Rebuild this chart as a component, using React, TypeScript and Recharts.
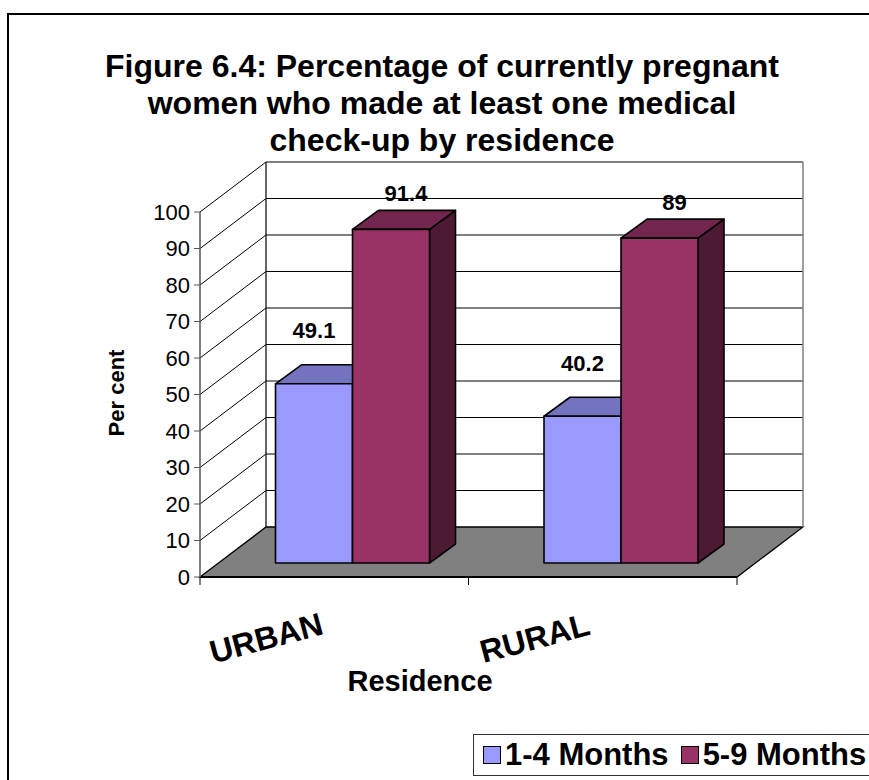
import React from 'react';
import { BarChart, Bar, XAxis, YAxis, CartesianGrid, LabelList, Legend } from 'recharts';

const residences = ['URBAN', 'RURAL'];
const early = [49.1, 40.2]; // 1-4 Months
const late = [91.4, 89]; // 5-9 Months
const yTicks = [0, 10, 20, 30, 40, 50, 60, 70, 80, 90, 100];
const seriesNames = ['1-4 Months', '5-9 Months'];

const data = residences.map((r, i) => ({ residence: r, early: early[i], late: late[i] }));

// layout of the front plane (plot area)
const W = 869;
const H = 780;
const PLOT_L = 200;
const PLOT_R = 737;
const PLOT_T = 212;
const PLOT_B = 577;
// depth of the 3D box
const WALL_DX = 66;
const WALL_DY = -50;
// bars stand part-way into the floor
const OFF_DX = 18.5;
const OFF_DY = -14;
const DEPTH_DX = 26;
const DEPTH_DY = -19;

const FONT = '"Liberation Sans", Arial, sans-serif';

const colors = {
  early: { front: '#9999FF', top: '#7373BF', side: '#4D4D80' },
  late: { front: '#993366', top: '#73264D', side: '#4D1A33' },
};

const makeBox = (c: { front: string; top: string; side: string }) => (props: any) => {
  const { x, y, width, height } = props;
  if (height == null || width == null) return null;
  const fx = x + OFF_DX;
  const fy = y + OFF_DY;
  const bx = fx + width;
  const by = fy + height;
  const top = `${fx},${fy} ${fx + DEPTH_DX},${fy + DEPTH_DY} ${bx + DEPTH_DX},${fy + DEPTH_DY} ${bx},${fy}`;
  const side = `${bx},${fy} ${bx + DEPTH_DX},${fy + DEPTH_DY} ${bx + DEPTH_DX},${by + DEPTH_DY} ${bx},${by}`;
  return (
    <g stroke="#000" strokeWidth={1.6} strokeLinejoin="round">
      <polygon points={side} fill={c.side} />
      <polygon points={top} fill={c.top} />
      <rect x={fx} y={fy} width={width} height={height} fill={c.front} />
    </g>
  );
};

const makeLabel = (dx: number, dy: number) => (props: any) => {
  const { x, y, width, value } = props;
  const cx = x + width / 2 + OFF_DX + dx;
  const cy = y + OFF_DY + DEPTH_DY + dy;
  return (
    <text x={cx} y={cy} textAnchor="middle" dominantBaseline="central"
      fontFamily={FONT} fontWeight="bold" fontSize={22} fill="#000">
      {value}
    </text>
  );
};

const gridLine = (p: any) => {
  const { x1, x2, y1, index } = p;
  const bx1 = x1 + WALL_DX;
  const bx2 = x2 + WALL_DX;
  const by = y1 + WALL_DY;
  if (Math.abs(y1 - PLOT_B) < 1) {
    const mid = (x1 + x2) / 2;
    return (
      <g key={`g-${index}`}>
        <polygon points={`${x1},${y1} ${bx1},${by} ${bx2},${by} ${x2},${y1}`}
          fill="#808080" stroke="#000" strokeWidth={1.3} />
        <line x1={x1} y1={y1} x2={x2} y2={y1} stroke="#000" strokeWidth={2} />
        {[x1, mid, x2].map((tx) => (
          <line key={tx} x1={tx} y1={y1} x2={tx} y2={y1 + 8} stroke="#000" strokeWidth={1} />
        ))}
      </g>
    );
  }
  const isTop = Math.abs(y1 - PLOT_T) < 1;
  return (
    <g key={`g-${index}`}>
      <line x1={x1} y1={y1} x2={bx1} y2={by} stroke="#000" strokeWidth={1} />
      <line x1={bx1} y1={by} x2={bx2} y2={by} stroke="#000" strokeWidth={1} />
      {isTop && (
        <>
          <line x1={bx1} y1={by} x2={bx1} y2={PLOT_B + WALL_DY} stroke="#000" strokeWidth={1.2} />
          <line x1={bx2} y1={by} x2={bx2} y2={PLOT_B + WALL_DY} stroke="#808080" strokeWidth={1.5} />
        </>
      )}
    </g>
  );
};

const YTick = (props: any) => {
  const { x, y, payload } = props;
  return (
    <text x={x - 2} y={y} textAnchor="end" dominantBaseline="central"
      fontFamily={FONT} fontSize={22} fill="#000">
      {payload.value}
    </text>
  );
};

const XTick = (props: any) => {
  const { x, payload } = props;
  const cx = x - 68;
  const cy = 638;
  return (
    <text x={cx} y={cy} textAnchor="middle" dominantBaseline="central"
      transform={`rotate(-15 ${cx} ${cy})`}
      fontFamily={FONT} fontWeight="bold" fontSize={32} fill="#000">
      {payload.value}
    </text>
  );
};

const LegendBox = () => (
  <div style={{
    position: 'absolute', left: 473, top: 734, width: 420, height: 42,
    border: '1.5px solid #333', background: '#fff', boxSizing: 'border-box',
    display: 'flex', alignItems: 'center', fontFamily: FONT, fontWeight: 'bold',
    fontSize: 31, color: '#000', whiteSpace: 'nowrap',
  }}>
    {seriesNames.map((n, i) => (
      <span key={n} style={{ display: 'flex', alignItems: 'center', marginLeft: i === 0 ? 9 : 12 }}>
        <span style={{
          width: 16, height: 16, border: '1.5px solid #000', display: 'inline-block',
          background: i === 0 ? colors.early.front : colors.late.front, marginRight: 4,
        }} />
        {n}
      </span>
    ))}
  </div>
);

export default function App() {
  return (
    <div style={{ position: 'absolute', left: 0, top: 0, width: W, height: H, overflow: 'hidden', background: '#fff' }}>
      <div style={{
        position: 'absolute', left: 7, top: 13, width: 900, height: 800,
        border: '2px solid #000', boxSizing: 'border-box',
      }} />
      <div style={{
        position: 'absolute', left: 0, width: 884, top: 48, textAlign: 'center',
        fontFamily: FONT, fontWeight: 'bold', fontSize: 32, lineHeight: '37px', color: '#000',
      }}>
        Figure 6.4: Percentage of currently pregnant<br />
        women who made at least one medical<br />
        check-up by residence
      </div>
      <div style={{ position: 'absolute', left: 0, top: 0 }}>
        <BarChart width={W} height={H} data={data}
          margin={{ top: PLOT_T, right: W - PLOT_R, bottom: H - PLOT_B - 30, left: PLOT_L - 60 }}
          barCategoryGap={57} barGap={0}>
          <CartesianGrid vertical={false} horizontal={gridLine} fill="none" />
          <YAxis type="number" domain={[0, 100]} ticks={yTicks} width={60}
            axisLine={{ stroke: '#555', strokeWidth: 1.5 }} tickLine={{ stroke: '#555' }} tickSize={6}
            tick={<YTick />} interval={0}
            label={{
              value: 'Per cent', angle: -90, position: 'insideLeft',
              content: () => (
                <text x={116} y={393} textAnchor="middle" dominantBaseline="central"
                  transform="rotate(-90 116 393)" fontFamily={FONT} fontWeight="bold" fontSize={22} fill="#000">
                  Per cent
                </text>
              ),
            }} />
          <XAxis dataKey="residence" height={30} axisLine={false} tickLine={false} tick={<XTick />} interval={0}
            label={{
              value: 'Residence',
              content: () => (
                <text x={420} y={681} textAnchor="middle" dominantBaseline="central"
                  fontFamily={FONT} fontWeight="bold" fontSize={29} fill="#000">
                  Residence
                </text>
              ),
            }} />
          <Bar dataKey="early" name={seriesNames[0]} shape={makeBox(colors.early)} isAnimationActive={false}>
            <LabelList dataKey="early" content={makeLabel(0, -34)} />
          </Bar>
          <Bar dataKey="late" name={seriesNames[1]} shape={makeBox(colors.late)} isAnimationActive={false}>
            <LabelList dataKey="late" content={makeLabel(15, -17)} />
          </Bar>
          <Legend content={() => null} />
        </BarChart>
      </div>
      <LegendBox />
    </div>
  );
}
